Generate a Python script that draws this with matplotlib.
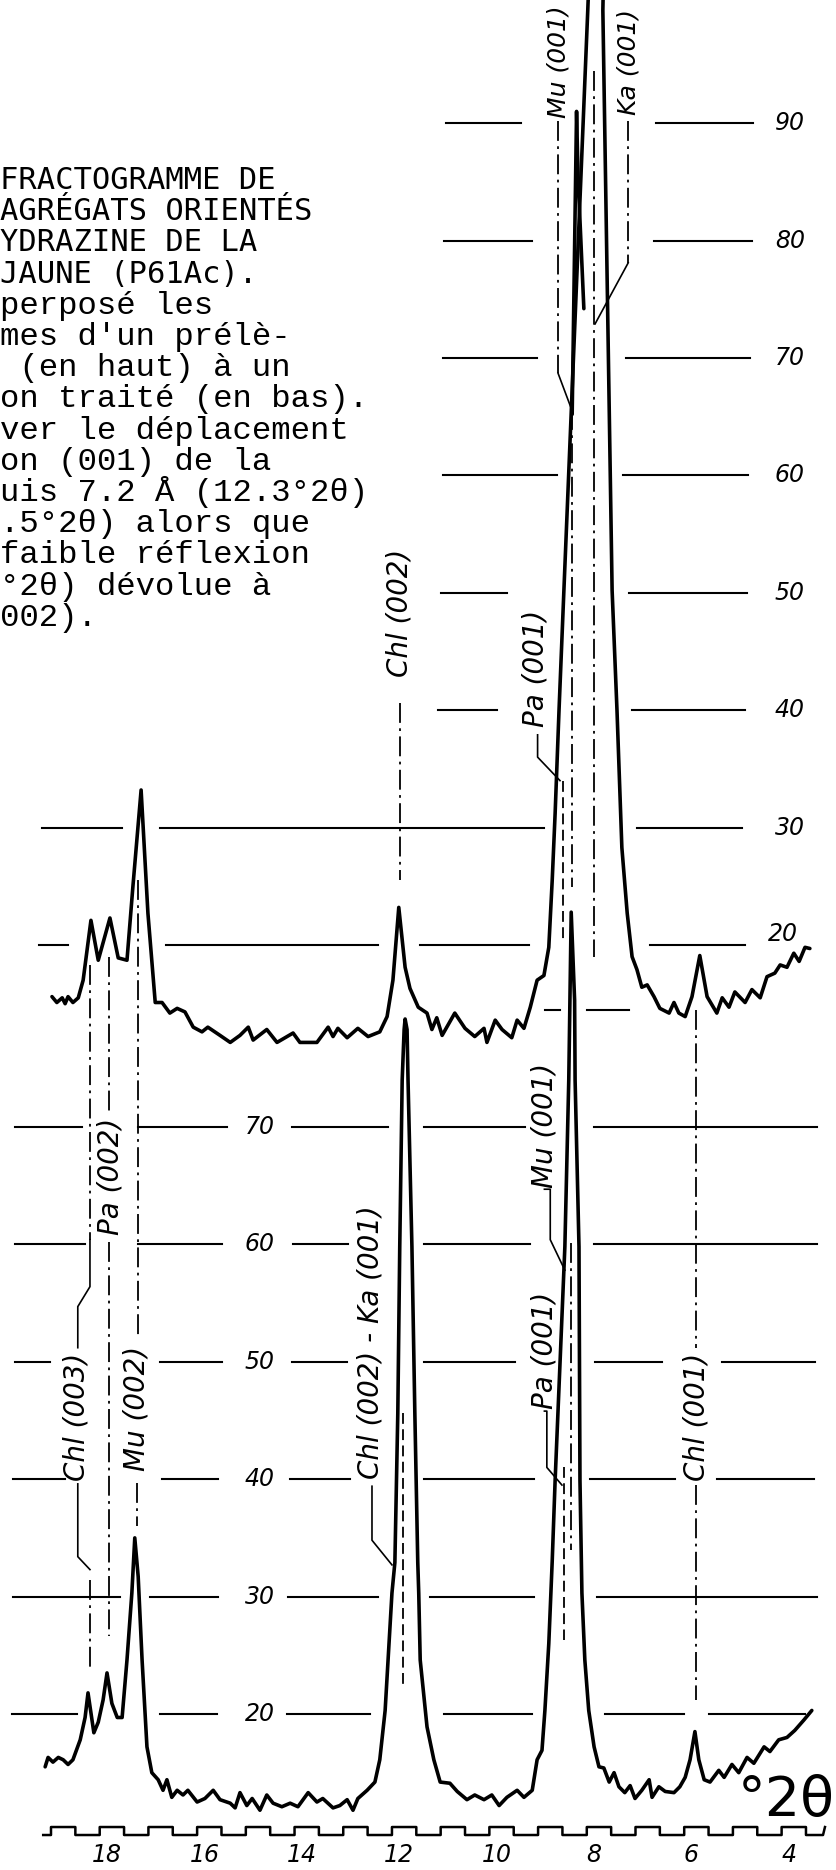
import matplotlib
matplotlib.use("Agg")
import matplotlib.pyplot as plt

# --- traces: 2theta (deg) and intensity (units of each panel's scale)
top_t = [19.13, 19.03, 18.92, 18.86, 18.80, 18.70, 18.59, 18.49, 18.33, 18.18, 18.08, 17.94,
         17.77, 17.59, 17.47, 17.30, 17.16, 17.01, 16.87, 16.71, 16.56, 16.40, 16.23, 16.05,
         15.93, 15.68, 15.47, 15.27, 15.10, 15.00, 14.72, 14.51, 14.18, 14.04, 13.69, 13.46,
         13.36, 13.26, 13.07, 12.85, 12.64, 12.40, 12.25, 12.13, 12.01, 11.88, 11.78, 11.61,
         11.43, 11.33, 11.23, 11.12, 10.86, 10.65, 10.45, 10.26, 10.20, 10.03, 9.89, 9.69,
         9.58, 9.44, 9.31, 9.17, 9.03, 8.93, 8.86, 8.80, 8.72, 8.62, 8.13, 8.09, 7.95, 7.80,
         7.82, 7.63, 7.53, 7.43, 7.32, 7.22, 7.12, 7.02, 6.91, 6.77, 6.65, 6.46, 6.36, 6.26,
         6.13, 5.99, 5.83, 5.68, 5.48, 5.37, 5.23, 5.11, 4.90, 4.76, 4.59, 4.45, 4.29, 4.18,
         4.04, 3.90, 3.79, 3.67, 3.57]
top_v = [15.6, 15.1, 15.5, 15.0, 15.6, 15.1, 15.5, 17.0, 22.1, 18.7, 20.2, 22.3,
         18.9, 18.7, 24.9, 33.2, 22.7, 15.1, 15.1, 14.2, 14.6, 14.3, 13.0, 12.6,
         13.0, 12.3, 11.7, 12.3, 13.0, 11.9, 12.8, 11.7, 12.5, 11.7, 11.7, 13.0,
         12.2, 12.9, 12.1, 12.9, 12.2, 12.6, 13.9, 17.0, 23.2, 18.1, 16.3, 14.7,
         14.2, 12.8, 13.8, 12.3, 14.2, 12.9, 12.2, 12.9, 11.7, 13.6, 12.8, 12.1,
         13.6, 12.9, 14.7, 17.0, 17.4, 19.8, 25.5, 31.2, 40.0, 50.2, 99.6, 104.0, 140.0, 104.0,
         99.6, 50.2, 40.0, 28.3, 22.7, 19.0, 17.9, 16.4, 16.6, 15.6, 14.6, 14.2, 15.1, 14.2,
         13.9, 15.6, 19.1, 15.6, 14.2, 15.5, 14.7, 16.0, 15.1, 16.2, 15.5, 17.3, 17.6, 18.3,
         18.1, 19.3, 18.6, 19.8, 19.7]
# second pen stroke inside the big upper peak (Mu 001 top)
top_inner_t = [8.45, 8.36, 8.33, 8.21]
top_inner_v = [65.2, 91.0, 85.5, 74.2]

bot_t = [19.27, 19.21, 19.11, 19.00, 18.90, 18.80, 18.70, 18.55, 18.45, 18.39, 18.27, 18.18,
         18.08, 18.00, 17.90, 17.79, 17.69, 17.59, 17.49, 17.43, 17.36, 17.28, 17.18, 17.08,
         16.95, 16.85, 16.77, 16.67, 16.56, 16.44, 16.34, 16.15, 15.99, 15.82, 15.68, 15.47,
         15.37, 15.27, 15.13, 15.02, 14.86, 14.72, 14.59, 14.41, 14.24, 14.08, 13.87, 13.69,
         13.57, 13.36, 13.22, 13.07, 12.95, 12.85, 12.66, 12.50, 12.40, 12.29, 12.23, 12.15,
         12.09, 12.03, 11.99, 11.94, 11.90, 11.88, 11.84, 11.82, 11.74, 11.68, 11.62, 11.60,
         11.57, 11.43, 11.29, 11.16, 10.96, 10.81, 10.61, 10.45, 10.26, 10.10, 9.95, 9.79,
         9.58, 9.44, 9.27, 9.17, 9.07, 9.01, 8.93, 8.86, 8.80, 8.60, 8.52, 8.47, 8.40, 8.39,
         8.31, 8.29, 8.25, 8.19, 8.11, 8.00, 7.90, 7.80, 7.69, 7.59, 7.49, 7.37, 7.26, 7.16,
         7.02, 6.87, 6.81, 6.67, 6.54, 6.36, 6.24, 6.13, 6.03, 5.93, 5.85, 5.74, 5.62, 5.44,
         5.33, 5.17, 5.03, 4.86, 4.72, 4.51, 4.39, 4.21, 4.04, 3.88, 3.69, 3.53]
bot_v = [15.5, 16.3, 15.9, 16.3, 16.1, 15.7, 16.1, 17.8, 19.7, 21.8, 18.4, 19.3,
         21.2, 23.5, 20.9, 19.7, 19.7, 24.6, 30.3, 35.0, 31.7, 24.6, 17.2, 15.0,
         14.4, 13.5, 14.4, 12.9, 13.5, 13.1, 13.5, 12.5, 12.8, 13.5, 12.7, 12.4,
         12.0, 13.3, 12.2, 12.8, 11.8, 13.1, 12.4, 12.1, 12.4, 12.1, 13.3, 12.5,
         12.8, 12.0, 12.2, 12.7, 11.8, 12.8, 13.5, 14.2, 16.1, 20.3, 24.6, 30.3,
         32.9, 45.6, 59.8, 74.0, 78.3, 79.2, 78.3, 74.0, 59.8, 45.6, 32.9, 30.3,
         24.6, 18.9, 16.1, 14.2, 14.1, 13.4, 12.7, 13.1, 12.7, 13.1, 12.2, 12.9,
         13.5, 12.9, 13.5, 16.1, 16.9, 20.3, 26.0, 33.0, 39.9, 59.8, 74.0, 88.3, 80.8, 74.0,
         59.8, 39.9, 30.3, 24.6, 20.3, 17.2, 15.5, 15.4, 14.2, 15.0, 13.8, 13.3, 13.9, 12.8,
         13.5, 14.4, 12.9, 13.8, 13.4, 13.3, 13.8, 14.6, 16.1, 18.5, 16.1, 14.4, 14.2, 15.2,
         14.6, 15.7, 15.0, 16.3, 15.8, 17.2, 16.8, 17.8, 18.0, 18.6, 19.5, 20.3]

top_ticks = [20, 30, 40, 50, 60, 70, 80, 90]
bot_ticks = [20, 30, 40, 50, 60, 70]
theta_labels = [18, 16, 14, 12, 10, 8, 6, 4]
timing_marks = list(range(19, 3, -1))

# broken scale lines (2theta extents of each drawn piece)
top_grid = {
    90: [(11.04, 9.50), (6.73, 4.74)],
    80: [(11.08, 9.27), (6.77, 4.76)],
    70: [(11.10, 9.17), (7.35, 4.80)],
    60: [(11.10, 8.76), (7.41, 4.84)],
    50: [(11.14, 9.79), (7.28, 4.86)],
    40: [(11.20, 9.99), (7.22, 4.90)],
    30: [(19.34, 17.69), (16.91, 9.03), (7.12, 4.96)],
    20: [(19.40, 18.80), (16.79, 12.44), (11.58, 9.34), (6.85, 4.90)],
}
bot_grid = {
    80: [(9.01, 8.70), (8.15, 7.28)],
    70: [(19.89, 18.51), (17.36, 15.54), (14.20, 12.23), (11.49, 9.42), (8.00, 3.43)],
    60: [(19.89, 18.45), (17.36, 15.64), (14.18, 13.05), (11.49, 9.32), (8.00, 3.43)],
    50: [(19.89, 19.17), (16.91, 15.64), (14.20, 13.07), (11.49, 9.62), (7.98, 6.61), (5.37, 3.47)],
    40: [(19.93, 18.86), (16.87, 15.72), (14.24, 13.01), (11.49, 9.23), (8.08, 6.34), (5.48, 3.49)],
    30: [(19.93, 17.73), (17.12, 15.72), (14.28, 12.44), (11.37, 9.23), (7.94, 3.43)],
    20: [(19.95, 18.62), (16.91, 15.74), (14.30, 12.60), (11.08, 9.27), (7.78, 6.15), (5.64, 3.67)],
}

# peak labels: text, 2theta, intensity of text centre, font size
top_labels = [("Chl (002)", 11.985, 48.3, 20), ("Pa (001)", 9.20, 43.6, 20),
              ("Mu (001)", 8.74, 95.2, 18), ("Ka (001)", 7.30, 95.2, 18)]
bot_labels = [("Chl (003)", 18.62, 45.3, 20), ("Pa (002)", 17.93, 65.8, 20),
              ("Mu (002)", 17.40, 46.0, 20), ("Chl (002) - Ka (001)", 12.60, 51.7, 20),
              ("Mu (001)", 9.02, 70.1, 20), ("Pa (001)", 9.02, 51.0, 20),
              ("Chl (001)", 5.89, 45.3, 20)]

caption = ["FRACTOGRAMME DE", "AGRÉGATS ORIENTÉS", "YDRAZINE DE LA", "JAUNE (P61Ac).",
           "perposé les", "mes d'un prélè-", " (en haut) à un", "on traité (en bas).",
           "ver le déplacement", "on (001) de la", "uis 7.2 Å (12.3°2θ)", ".5°2θ) alors que",
           "faible réflexion", "°2θ) dévolue à", "002)."]

# ---------------------------------------------------------------
W, H = 837, 1870
fig = plt.figure(figsize=(W / 100, H / 100), dpi=100)
fig.patch.set_facecolor("white")

ax_top = fig.add_axes([0, 0, 1, 1])
ax_bot = fig.add_axes([0, 0, 1, 1])
for ax in (ax_top, ax_bot):
    ax.set_facecolor("none")
    ax.set_xlim(20.197, 3.013)
    ax.axis("off")
ax_top.set_ylim(-58.79, 100.49)
ax_bot.set_ylim(6.71, 166.0)

trace_kw = dict(color="black", lw=2.6, solid_joinstyle="round", solid_capstyle="round")
grid_kw = dict(color="black", lw=1.5)
dd = (0, (11, 3, 1.5, 3))
ref_kw = dict(color="black", lw=1.3, ls=dd)
dash_kw = dict(color="black", lw=1.3, ls=(0, (6, 3)))
lead_kw = dict(color="black", lw=1.2)
num_kw = dict(fontsize=17, style="italic", ha="center", va="center")
lab_kw = dict(style="italic", rotation=90, ha="center", va="center", rotation_mode="anchor")

# scale lines
for lvl, segs in top_grid.items():
    for a, b in segs:
        ax_top.plot([a, b], [lvl, lvl], **grid_kw)
for lvl, segs in bot_grid.items():
    for a, b in segs:
        ax_bot.plot([a, b], [lvl, lvl], **grid_kw)

for lvl in top_ticks:
    if lvl == 20:
        ax_top.text(4.12, lvl + 0.9, str(lvl), **num_kw)
    else:
        ax_top.text(3.98, lvl, str(lvl), **num_kw)
for lvl in bot_ticks:
    ax_bot.text(14.87, lvl, str(lvl), **num_kw)

# traces
ax_top.plot(top_t, top_v, **trace_kw)
ax_top.plot(top_inner_t, top_inner_v, **trace_kw)
ax_bot.plot(bot_t, bot_v, **trace_kw)

# peak labels
for s, t, v, fs in top_labels:
    ax_top.text(t, v, s, fontsize=fs, **lab_kw)
for s, t, v, fs in bot_labels:
    ax_bot.text(t, v, s, fontsize=fs, **lab_kw)

# reference lines and leaders, upper diagram
ax_top.plot([11.985, 11.985], [40.6, 25.5], **ref_kw)
ax_top.plot([8.74, 8.74], [90.2, 68.7], **ref_kw)
ax_top.plot([8.74, 8.46], [68.7, 65.6], **lead_kw)
ax_top.plot([8.46, 8.46], [65.6, 24.9], **ref_kw)
ax_top.plot([7.30, 7.30], [90.2, 78.1], **ref_kw)
ax_top.plot([7.30, 7.98], [78.1, 72.9], **lead_kw)
ax_top.plot([8.00, 8.00], [94.4, 19.0], **ref_kw)
ax_top.plot([9.16, 9.16, 8.70], [37.9, 36.0, 34.0], **lead_kw)
ax_top.plot([8.64, 8.64], [34.0, 20.3], **dash_kw)

# reference lines and leaders, lower diagram
ax_bot.plot([18.35, 18.35], [83.8, 60.4], **ref_kw)
ax_bot.plot([18.35, 18.35, 18.60, 18.60], [60.4, 56.4, 54.7, 51.2], **lead_kw)
ax_bot.plot([18.60, 18.60, 18.35], [39.6, 33.4, 32.3], **lead_kw)
ax_bot.plot([18.35, 18.35], [31.4, 24.0], **ref_kw)

ax_bot.plot([17.95, 17.95], [84.5, 71.4], **ref_kw)
ax_bot.plot([17.95, 17.95], [60.2, 26.6], **ref_kw)

ax_bot.plot([17.36, 17.36], [91.0, 52.3], **ref_kw)
ax_bot.plot([17.38, 17.38], [39.7, 36.0], **ref_kw)

ax_bot.plot([12.56, 12.56, 12.15], [39.4, 34.8, 32.7], **lead_kw)
ax_bot.plot([11.92, 11.92], [45.6, 22.3], **dash_kw)

ax_bot.plot([9.02, 8.90, 8.90, 8.60], [64.7, 64.7, 60.4, 57.8], **lead_kw)
ax_bot.plot([8.47, 8.47], [60.1, 34.0], **ref_kw)

ax_bot.plot([9.02, 8.97, 8.97, 8.66], [45.8, 45.8, 41.0, 39.5], **lead_kw)
ax_bot.plot([8.62, 8.62], [41.0, 26.3], **dash_kw)

ax_bot.plot([5.91, 5.91], [80.0, 51.2], **ref_kw)
ax_bot.plot([5.91, 5.91], [39.5, 21.2], **ref_kw)

# 2theta timing marks and labels
lo, hi = 9.69, 10.37
wx, wy = [19.31], [lo]
for n in timing_marks:
    wx += [n + 0.15, n + 0.15, n - 0.35, n - 0.35]
    wy += [lo, hi, hi, lo]
wx += [3.30, 3.26]
wy += [lo, hi]
ax_bot.plot(wx, wy, color="black", lw=1.8)
for t in theta_labels:
    ax_bot.text(t, 8.0, str(t), **num_kw)
ax_bot.text(3.06, 12.6, "°2θ", ha="right", va="center", fontsize=40)

# caption (cut at the left edge as in the scan)
for i, line in enumerate(caption):
    fam = "DejaVu Sans Mono" if i < 4 else "Liberation Mono"
    size = 22 if i < 4 else 23.3
    fig.text(0.0, 1 - (189 + 31.2 * i) / H, line, family=fam, fontsize=size,
             ha="left", va="baseline")

fig.savefig("out.png", dpi=100)
